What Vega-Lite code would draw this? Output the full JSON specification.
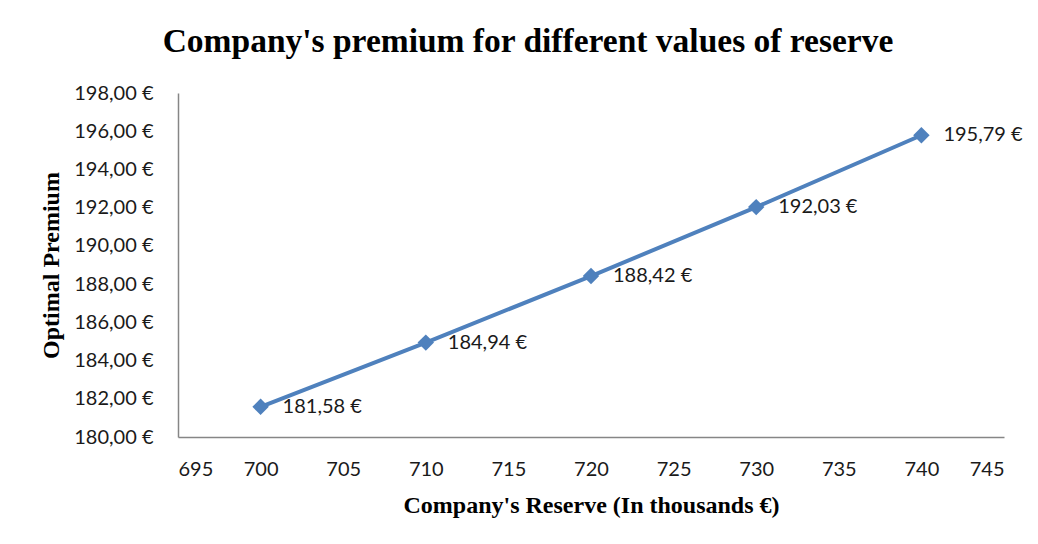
{
  "$schema": "https://vega.github.io/schema/vega-lite/v6.json",
  "autosize": "none",
  "width": 826,
  "height": 344,
  "padding": {"left": 178, "top": 93, "right": 34, "bottom": 107},
  "background": "white",
  "config": {
    "view": {"stroke": null},
    "locale": {"number": {"decimal": ",", "thousands": ".", "grouping": [3], "currency": ["", " €"]}},
    "axis": {"grid": false, "ticks": false, "domainColor": "#868686", "domainWidth": 1.5, "labelFont": "Lato", "labelFontSize": 20, "labelColor": "#1a1a1a", "titleFont": "Liberation Serif", "titleFontSize": 24, "titleFontWeight": "bold", "titleColor": "#000000"}
  },
  "title": {"text": "Company's premium for different values of reserve", "font": "Liberation Serif", "fontSize": 33.5, "fontWeight": "bold", "color": "#000000", "anchor": "middle", "dx": -63, "offset": 24},
  "data": {"values": [
    {"reserve": 700, "premium": 181.58},
    {"reserve": 710, "premium": 184.94},
    {"reserve": 720, "premium": 188.42},
    {"reserve": 730, "premium": 192.03},
    {"reserve": 740, "premium": 195.79}
  ]},
  "encoding": {
    "x": {"field": "reserve", "type": "quantitative", "scale": {"domain": [695, 745], "nice": false, "zero": false}, "axis": {"values": [695, 700, 705, 710, 715, 720, 725, 730, 735, 740, 745], "format": "d", "labelPadding": 22, "title": "Company's Reserve (In thousands €)", "titlePadding": 14}},
    "y": {"field": "premium", "type": "quantitative", "scale": {"domain": [180, 198], "nice": false, "zero": false}, "axis": {"values": [180, 182, 184, 186, 188, 190, 192, 194, 196, 198], "format": "$.2f", "labelPadding": 25, "title": "Optimal Premium", "titlePadding": 10}}
  },
  "layer": [
    {"mark": {"type": "line", "color": "#4F81BD", "strokeWidth": 4}},
    {"mark": {"type": "point", "shape": "diamond", "filled": true, "color": "#4F81BD", "size": 270, "opacity": 1}},
    {"mark": {"type": "text", "align": "left", "dx": 22, "font": "Lato", "fontSize": 20, "color": "#1a1a1a"}, "encoding": {"text": {"field": "premium", "type": "quantitative", "format": "$.2f"}}}
  ]
}
